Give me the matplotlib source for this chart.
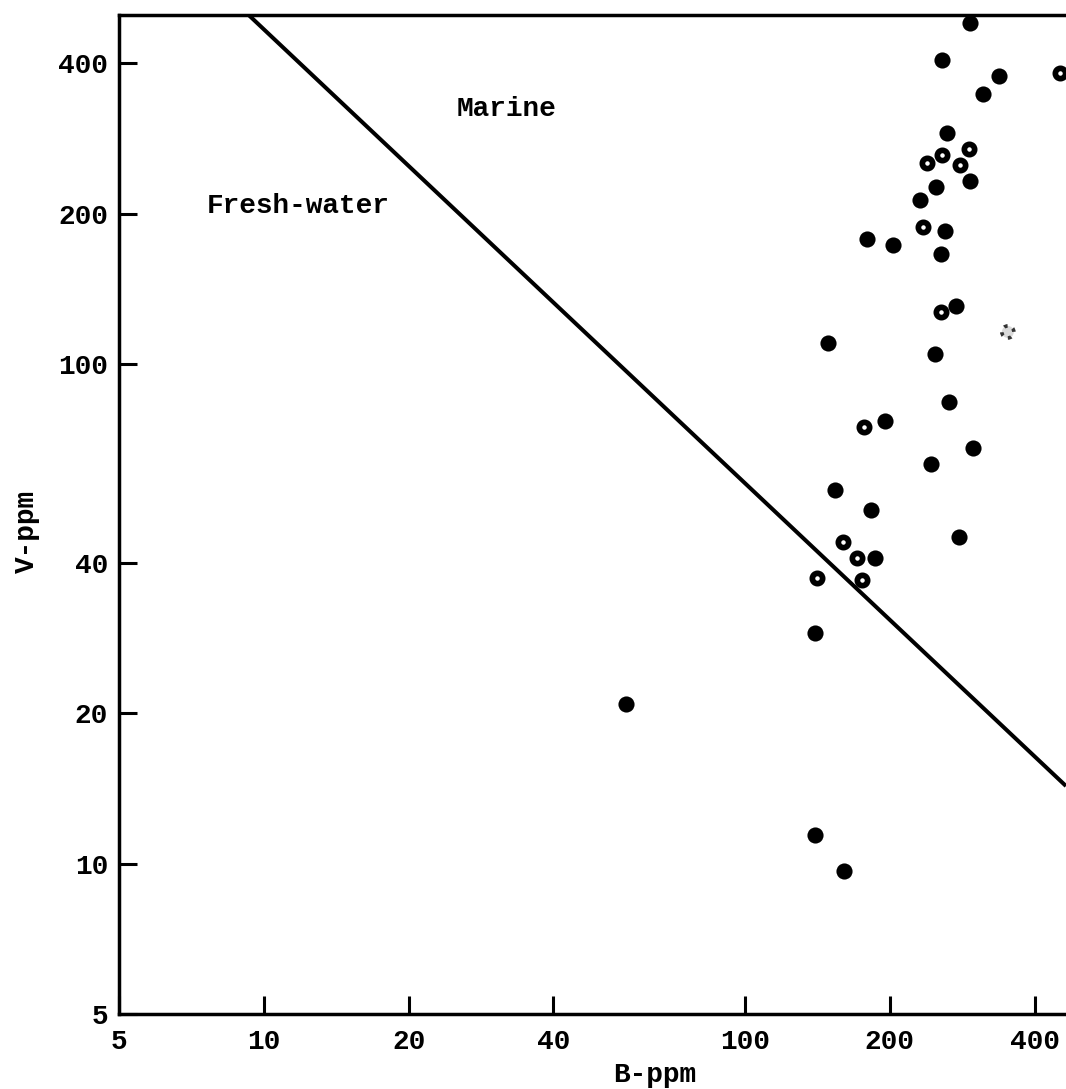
import matplotlib
matplotlib.use("Agg")
import matplotlib.pyplot as plt

plt.rcParams["font.family"] = ["Liberation Mono", "DejaVu Sans Mono"]
plt.rcParams["font.weight"] = "bold"

# solid dots (B-ppm, V-ppm)
solid_b = [294, 257, 337, 313, 263, 294, 249, 231, 260, 179, 203, 256, 275,
           149, 248, 266, 196, 298, 244, 154, 183, 278, 186, 140, 140, 161, 56.5]
solid_v = [482, 407, 377, 348, 290, 233, 226, 213, 185, 178, 173, 166, 131,
           110, 105, 84, 77, 68, 63, 56, 51, 45, 41, 29, 11.4, 9.65, 20.9]

# ringed dots
ring_b = [451, 292, 257, 239, 280, 235, 256, 177, 160, 171, 141, 175]
ring_v = [383, 269, 262, 253, 250, 188, 127, 75, 44, 41, 37.3, 37]

# faint (dotted) point
faint_b = [352]
faint_v = [116]

# dividing line
line_b = [9.3, 465]
line_v = [500, 14.3]

ticks = [5, 10, 20, 40, 100, 200, 400]
tick_labels = ["5", "10", "20", "40", "100", "200", "400"]

fig = plt.figure(figsize=(10.66, 10.89), dpi=100)
ax = fig.add_axes([119 / 1066, 1 - 1014 / 1089, 947 / 1066, 999 / 1089])

ax.set_xscale("log")
ax.set_yscale("log")
ax.set_xlim(5, 465)
ax.set_ylim(5, 500)

ax.plot(line_b, line_v, color="black", lw=2.9, solid_capstyle="butt")

ax.scatter(solid_b, solid_v, s=135, c="black", linewidths=0, clip_on=False, zorder=3)
ax.scatter(ring_b, ring_v, s=55, facecolors="white", edgecolors="black",
           linewidths=4.1, clip_on=False, zorder=3)
ax.scatter(faint_b, faint_v, s=75, facecolors="0.85", edgecolors="0.2",
           linewidths=2.6, linestyle=":", zorder=3)

ax.text(32, 324, "Marine", fontsize=20, ha="center", va="center")
ax.text(11.8, 207, "Fresh-water", fontsize=20, ha="center", va="center")

ax.set_xticks(ticks)
ax.set_xticklabels(tick_labels)
ax.set_yticks(ticks)
ax.set_yticklabels(tick_labels)
ax.minorticks_off()
ax.tick_params(axis="both", direction="in", length=13, width=2.2,
               labelsize=20, color="black")
ax.tick_params(axis="x", pad=11)
ax.tick_params(axis="y", pad=8)

for side in ["left", "bottom", "top"]:
    ax.spines[side].set_linewidth(2.5)
ax.spines["right"].set_visible(False)

ax.text(0.566, -0.061, "B-ppm", transform=ax.transAxes, fontsize=20,
        ha="center", va="center")
ax.text(-0.097, 0.4835, "V-ppm", transform=ax.transAxes, fontsize=20,
        ha="center", va="center", rotation=90)

fig.savefig("out.png", dpi=100)
